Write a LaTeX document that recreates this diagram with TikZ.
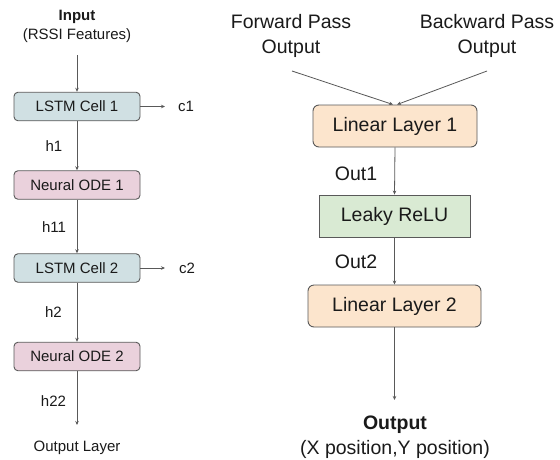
\documentclass[tikz,border=0pt]{standalone}
\usepackage{fontspec}
\setmainfont{Liberation Sans}
\usetikzlibrary{arrows.meta}
\definecolor{lstmfill}{HTML}{D0E0E3}
\definecolor{odefill}{HTML}{EAD1DC}
\definecolor{linfill}{HTML}{FCE5CD}
\definecolor{relufill}{HTML}{D9EAD3}
\definecolor{edge}{HTML}{595959}
\definecolor{txt}{HTML}{1A1A1A}
\begin{document}
\begin{tikzpicture}[x=1pt,y=-1pt,
  lefttxt/.style={font=\fontsize{15}{19}\selectfont, text=txt, inner sep=0pt, align=center},
  righttxt/.style={font=\fontsize{19.5}{25}\selectfont, text=txt, inner sep=0pt, align=center},
  leftbox/.style={lefttxt, draw=edge, line width=0.9pt, rounded corners=4pt, minimum width=126pt, minimum height=28.5pt},
  rightbox/.style={righttxt, draw=edge, line width=0.9pt, minimum height=42pt},
  conn/.style={draw=edge, line width=0.8pt, -{Stealth[length=4pt,width=3.5pt]}},
  plain/.style={draw=edge, line width=0.8pt}
]
\useasboundingbox (0,0) rectangle (560,459);
\fill[white] (0,0) rectangle (560,459);

% ---------- left column ----------
\node[lefttxt] (inp) at (77,26.5) {\textbf{Input}\\(RSSI Features)};
\coordinate (inS) at (77,55);
\node[leftbox, fill=lstmfill] (lstm1) at (77,106.5) {LSTM Cell 1};
\node[leftbox, fill=odefill] (ode1) at (77,185) {Neural ODE 1};
\node[leftbox, fill=lstmfill] (lstm2) at (77,268) {LSTM Cell 2};
\node[leftbox, fill=odefill] (ode2) at (77,356.5) {Neural ODE 2};
\coordinate (outLend) at (77,425);
\node[lefttxt] (outL) at (77,448) {Output Layer};

\node[lefttxt] (c1) at (186,106.5) {c1};
\node[lefttxt] (c2) at (187,268) {c2};
\coordinate (c1end) at (165,106.5);
\coordinate (c2end) at (165,268);

\node[lefttxt] (h1) at (54,146) {h1};
\node[lefttxt] (h11) at (54,227) {h11};
\node[lefttxt] (h2) at (53.5,312) {h2};
\node[lefttxt] (h22) at (53.5,401) {h22};

\draw[conn] (inS) -- (lstm1.north);
\draw[conn] (lstm1.south) -- (ode1.north);
\draw[conn] (ode1.south) -- (lstm2.north);
\draw[conn] (lstm2.south) -- (ode2.north);
\draw[conn] (ode2.south) -- (outLend);
\draw[conn] (lstm1.east) -- (c1end);
\draw[conn] (lstm2.east) -- (c2end);

% ---------- right column ----------
\node[righttxt] (fwd) at (291,35.5) {Forward Pass\\Output};
\node[righttxt] (bwd) at (487,35.5) {Backward Pass\\Output};
\coordinate (fwdS) at (292,71);
\coordinate (bwdS) at (487,71);

\node[rightbox, fill=linfill, rounded corners=6pt, minimum width=164pt] (lin1) at (395,126) {Linear Layer 1};
\node[rightbox, fill=relufill, minimum width=151pt] (relu) at (394.5,216) {Leaky ReLU};
\node[rightbox, fill=linfill, rounded corners=6pt, minimum width=173pt] (lin2) at (394.5,306) {Linear Layer 2};
\coordinate (outRend) at (394.5,400);
\node[righttxt] (outR) at (395,437) {\textbf{Output}\\(X position,Y position)};

\node[righttxt] (out1) at (356,173.5) {Out1};
\node[righttxt] (out2) at (356,262) {Out2};

\draw[conn] (fwdS) -- ([xshift=-2pt]lin1.north);
\draw[conn] (bwdS) -- ([xshift=2pt]lin1.north);
\draw[conn] (lin1.south) -- (relu.north);
\draw[conn] (relu.south) -- (lin2.north);
\draw[conn] (lin2.south) -- (outRend);
\end{tikzpicture}
\end{document}
